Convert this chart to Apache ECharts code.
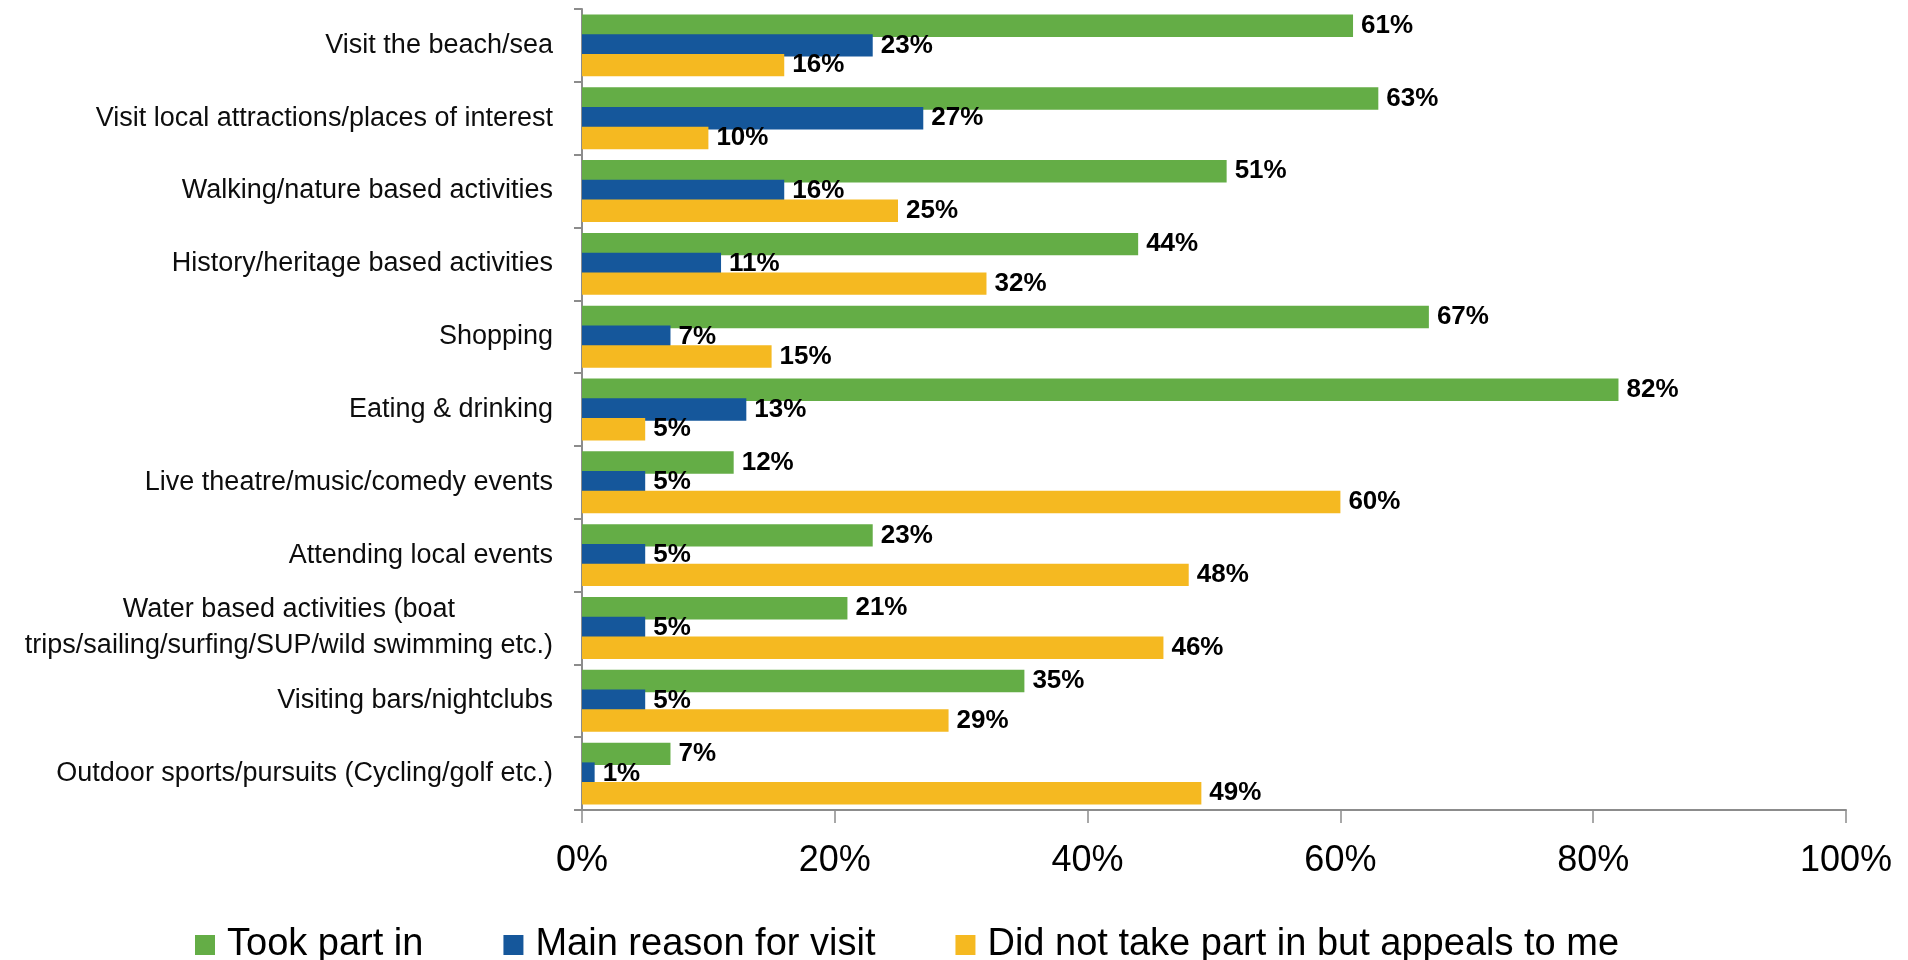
<!DOCTYPE html>
<html>
<head>
<meta charset="utf-8">
<title>Activities during visit</title>
<script src="https://cdn.jsdelivr.net/npm/echarts@6/dist/echarts.min.js"></script>
<style>
  html, body { margin: 0; padding: 0; background: #ffffff; }
  #chart { width: 1908px; height: 960px; }
</style>
</head>
<body>
<div id="chart"></div>
<script>
// Activity categories, listed top to bottom
const categories = [
  'Visit the beach/sea',
  'Visit local attractions/places of interest',
  'Walking/nature based activities',
  'History/heritage based activities',
  'Shopping',
  'Eating & drinking',
  'Live theatre/music/comedy events',
  'Attending local events',
  'Water based activities (boat\ntrips/sailing/surfing/SUP/wild swimming etc.)',
  'Visiting bars/nightclubs',
  'Outdoor sports/pursuits (Cycling/golf etc.)'
];

// Share of respondents (%)
const tookPart = [61, 63, 51, 44, 67, 82, 12, 23, 21, 35, 7];
const mainReason = [23, 27, 16, 11, 7, 13, 5, 5, 5, 5, 1];
const appeals = [16, 10, 25, 32, 15, 5, 60, 48, 46, 29, 49];

const seriesNames = ['Took part in', 'Main reason for visit', 'Did not take part in but appeals to me'];
const xTicks = [0, 20, 40, 60, 80, 100];

const FONT = '"Liberation Sans", Arial, sans-serif';
const AXIS_GREY = '#8c8c8c';
const colors = ['#64ad46', '#15579b', '#f5b921'];

function barSeries(name, values, color) {
  return {
    name: name,
    type: 'bar',
    data: values,
    barGap: '-12%',
    barCategoryGap: '15%',
    itemStyle: { color: color },
    label: {
      show: true,
      position: 'right',
      distance: 8,
      formatter: '{c}%',
      color: '#000000',
      fontFamily: FONT,
      fontWeight: 'bold',
      fontSize: 26
    }
  };
}

const chart = echarts.init(document.getElementById('chart'), null, { renderer: 'canvas' });

chart.setOption({
  backgroundColor: '#ffffff',
  animation: false,
  color: colors,
  grid: { left: 582, right: 62, top: 9, bottom: 150, containLabel: false },
  legend: {
    data: seriesNames,
    left: 190,
    top: 921,
    itemWidth: 20,
    itemHeight: 20,
    itemGap: 80,
    icon: 'rect',
    textStyle: {
      fontFamily: FONT,
      fontSize: 38,
      color: '#000000',
      padding: [0, 0, 0, 7]
    }
  },
  xAxis: {
    type: 'value',
    min: xTicks[0],
    max: xTicks[xTicks.length - 1],
    interval: xTicks[1] - xTicks[0],
    axisLine: { show: true, lineStyle: { color: AXIS_GREY, width: 2 } },
    axisTick: { show: true, length: 13, lineStyle: { color: AXIS_GREY, width: 1.5 } },
    splitLine: { show: false },
    axisLabel: {
      formatter: '{value}%',
      margin: 33,
      color: '#000000',
      fontFamily: FONT,
      fontSize: 36
    }
  },
  yAxis: {
    type: 'category',
    inverse: true,
    data: categories,
    axisLine: { show: true, lineStyle: { color: AXIS_GREY, width: 2 } },
    axisTick: { show: true, length: 8, lineStyle: { color: AXIS_GREY, width: 2 } },
    axisLabel: {
      margin: 29,
      formatter: function (v) {
        return v.split('\n').map(function (line) { return '{c|' + line + '}'; }).join('\n');
      },
      rich: {
        c: {
          align: 'center',
          fontFamily: FONT,
          fontSize: 27,
          lineHeight: 36,
          color: '#0d0d0d'
        }
      }
    }
  },
  series: [
    barSeries(seriesNames[0], tookPart, colors[0]),
    barSeries(seriesNames[1], mainReason, colors[1]),
    barSeries(seriesNames[2], appeals, colors[2])
  ]
});
</script>
</body>
</html>
